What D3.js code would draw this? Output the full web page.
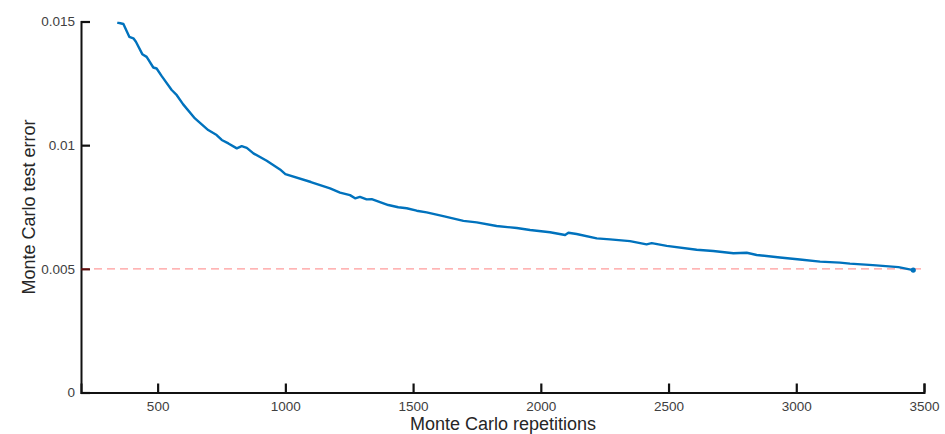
<!DOCTYPE html>
<html><head><meta charset="utf-8">
<script src="https://cdn.jsdelivr.net/npm/d3@7"></script>
<style>body{margin:0;background:#fff}svg{display:block}text{font-family:"Liberation Sans",Arial,sans-serif}</style>
</head><body>
<svg id="c" width="945" height="434"></svg>
<script>
const reps = [342,366,389,405,415,440,457,483,496,516,555,575,600,646,698,731,751,777,810,829,849,875,927,979,1000,1100,1175,1214,1253,1273,1292,1318,1338,1403,1442,1475,1514,1553,1618,1697,1749,1827,1906,1958,2036,2095,2108,2140,2219,2271,2349,2414,2434,2493,2610,2675,2754,2806,2845,2936,3014,3093,3171,3210,3300,3400,3458];
const errs = [0.01496,0.01490,0.01438,0.01432,0.01418,0.01368,0.01357,0.01314,0.01310,0.01279,0.01223,0.01202,0.01165,0.01108,0.01061,0.01041,0.01021,0.01007,0.00987,0.00996,0.00989,0.00967,0.00937,0.00902,0.00883,0.00851,0.00825,0.00808,0.00798,0.00785,0.00791,0.00781,0.00782,0.00758,0.00749,0.00745,0.00735,0.00728,0.00713,0.00694,0.00688,0.00673,0.00665,0.00657,0.00648,0.00637,0.00646,0.00641,0.00623,0.00619,0.00612,0.00599,0.00604,0.00593,0.00577,0.00572,0.00563,0.00565,0.00556,0.00546,0.00538,0.00529,0.00525,0.00521,0.00515,0.00507,0.00495];
const target = 0.005;
const xTicks = [500,1000,1500,2000,2500,3000,3500];
const yTicks = [0,0.005,0.01,0.015];
const yTickLabels = ["0","0.005","0.01","0.015"];

const svg = d3.select("#c");
const x = d3.scaleLinear().domain([200,3500]).range([81,924]);
const y = d3.scaleLinear().domain([0,0.015]).range([392.5,21.5]);

svg.append("defs").append("clipPath").attr("id","clip").append("rect")
  .attr("x",81).attr("y",21.5).attr("width",843).attr("height",371);

// target line
svg.append("line").attr("x1",x(200)).attr("x2",x(3458)+8).attr("y1",y(target)).attr("y2",y(target))
  .attr("stroke","#ff7070").attr("stroke-opacity",0.7).attr("stroke-width",1.3).attr("stroke-dasharray","8,5");

// axes
const xAxis = svg.append("g").attr("transform","translate(0,392.5)")
  .call(d3.axisBottom(x).tickValues(xTicks).tickSize(-9).tickPadding(9).tickFormat(d3.format("d")));
const yAxis = svg.append("g").attr("transform","translate(81,0)")
  .call(d3.axisLeft(y).tickValues(yTicks).tickSize(-9).tickPadding(6).tickFormat((d,i)=>yTickLabels[i]));
[xAxis,yAxis].forEach(g=>{
  g.select(".domain").attr("stroke","#111").attr("stroke-width",2);
  g.selectAll(".tick line").attr("stroke","#111").attr("stroke-width",2.2);
  g.selectAll(".tick text").attr("fill","#404040").style("font-size","13.5px");
});
yAxis.selectAll(".tick").filter(d=>d===0.005).select("line").attr("stroke","#5a0f0f");

// curve
const pts = reps.map((r,i)=>[r,errs[i]]);
svg.append("path").datum(pts).attr("clip-path","url(#clip)")
  .attr("fill","none").attr("stroke","#0072BD").attr("stroke-width",2.4).attr("stroke-linejoin","round")
  .attr("d",d3.line().x(d=>x(d[0])).y(d=>y(d[1])));
svg.append("circle").attr("cx",x(reps[reps.length-1])).attr("cy",y(errs[errs.length-1])).attr("r",2.6).attr("fill","#0072BD");

// titles
svg.append("text").attr("x",503).attr("y",430).attr("text-anchor","middle").attr("fill","#262626")
  .style("font-size","18px").text("Monte Carlo repetitions");
svg.append("text").attr("transform","translate(35,207) rotate(-90)").attr("text-anchor","middle").attr("fill","#262626")
  .style("font-size","18px").text("Monte Carlo test error");
</script>
</body></html>
